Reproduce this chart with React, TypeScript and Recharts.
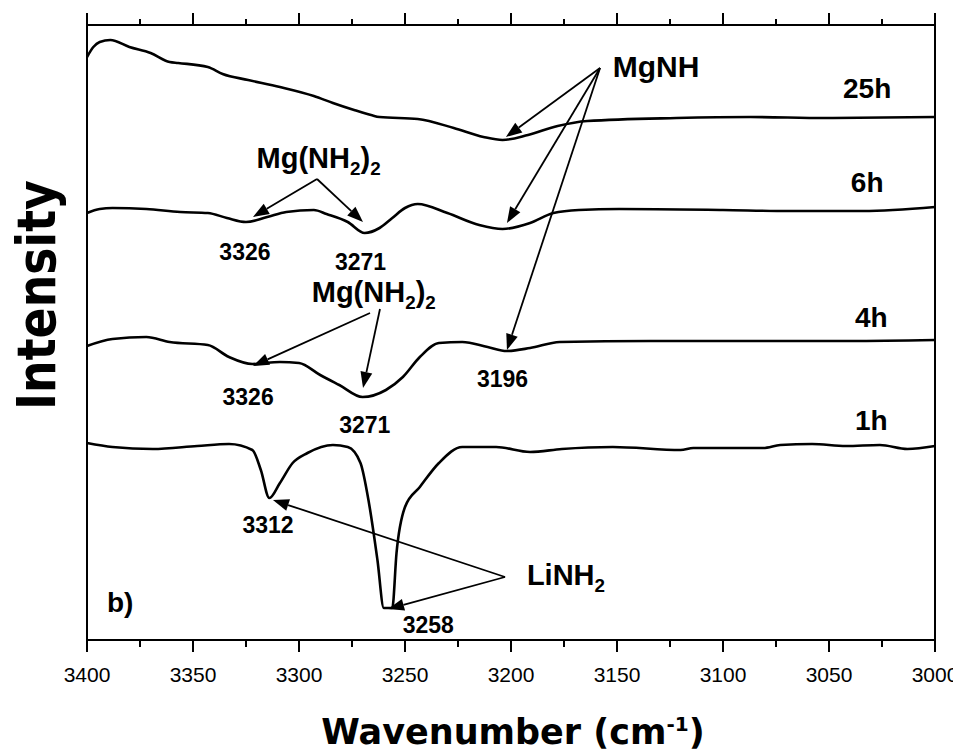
import { LineChart, Line, XAxis, YAxis, ReferenceLine, ReferenceDot } from 'recharts'

// wavenumber (cm-1) and intensity (a.u., curves offset)
const wn25h = [3400, 3397, 3394, 3389, 3380, 3370, 3361, 3357, 3343, 3336, 3324, 3309, 3293, 3284, 3274, 3266, 3262, 3244, 3227, 3213, 3204, 3192, 3178, 3164, 3122, 3087, 3052, 3000]
const int25h = [58.3, 59.3, 59.8, 60.0, 59.3, 58.7, 57.8, 57.7, 57.3, 56.6, 56.0, 55.3, 54.4, 53.7, 53.0, 52.5, 52.3, 52.1, 51.2, 50.3, 50.0, 50.5, 51.4, 51.9, 52.2, 52.3, 52.2, 52.3]

const wn6h = [3400, 3394, 3388, 3372, 3356, 3343, 3334, 3325, 3315, 3306, 3293, 3287, 3277, 3269, 3262, 3256, 3250, 3244, 3230, 3215, 3204, 3191, 3180, 3168, 3149, 3100, 3069, 3034, 3000]
const int6h = [42.7, 43.1, 43.2, 43.1, 42.8, 42.7, 42.2, 41.8, 42.3, 42.8, 43.0, 42.6, 41.8, 40.7, 41.2, 42.2, 43.2, 43.6, 42.7, 41.5, 41.1, 41.7, 42.7, 43.0, 43.1, 43.0, 42.9, 42.9, 43.3]

const wn4h = [3400, 3388, 3372, 3361, 3343, 3333, 3322, 3309, 3300, 3290, 3281, 3270, 3259, 3251, 3243, 3234, 3223, 3211, 3202, 3191, 3177, 3134, 3087, 3040, 3000]
const int4h = [29.4, 30.1, 30.3, 29.8, 29.5, 28.3, 27.6, 27.8, 27.7, 26.5, 25.5, 24.3, 25.0, 26.3, 28.3, 29.7, 29.8, 29.3, 28.9, 29.2, 29.8, 29.9, 29.9, 29.9, 30.0]

const wn1h = [3400, 3388, 3369, 3348, 3333, 3322, 3318, 3314, 3309, 3303, 3296, 3284, 3277, 3271, 3267, 3263, 3260, 3256, 3254, 3250, 3243, 3234, 3223, 3207, 3191, 3176, 3152, 3120, 3114, 3081, 3073, 3058, 3042, 3026, 3013, 3000]
const int1h = [19.7, 19.3, 19.1, 19.4, 19.6, 19.0, 17.0, 14.2, 15.7, 17.7, 18.7, 19.5, 19.3, 17.7, 13.7, 8.0, 3.2, 3.2, 8.7, 13.3, 15.3, 17.7, 19.3, 19.3, 18.8, 19.1, 19.3, 19.0, 19.2, 19.2, 19.5, 19.6, 19.4, 19.5, 19.1, 19.4]

const xTicks = [3400, 3375, 3350, 3325, 3300, 3275, 3250, 3225, 3200, 3175, 3150, 3125, 3100, 3075, 3050, 3025, 3000]
const yTicks = [6.4, 19.5, 32.6, 45.7, 58.8]

const toPoints = (w: number[], v: number[]) => w.map((x, i) => ({ w: x, v: v[i] }))
const series = [
  { name: '25h', data: toPoints(wn25h, int25h) },
  { name: '6h', data: toPoints(wn6h, int6h) },
  { name: '4h', data: toPoints(wn4h, int4h) },
  { name: '1h', data: toPoints(wn1h, int1h) },
]

type Part = { t: string; sub?: boolean; sup?: boolean }
// annotation text: [wavenumber, intensity, parts, size, anchor]
const labels: [number, number, Part[], number, string][] = [
  [3152, 56.3, [{ t: 'MgNH' }], 30, 'start'],
  [3032, 54.2, [{ t: '25h' }], 28, 'middle'],
  [3032, 44.8, [{ t: '6h' }], 28, 'middle'],
  [3030, 31.3, [{ t: '4h' }], 28, 'middle'],
  [3030, 21.0, [{ t: '1h' }], 28, 'middle'],
  [3320, 47.2, [{ t: 'Mg(NH' }, { t: '2', sub: true }, { t: ')' }, { t: '2', sub: true }], 29, 'start'],
  [3294, 33.8, [{ t: 'Mg(NH' }, { t: '2', sub: true }, { t: ')' }, { t: '2', sub: true }], 29, 'start'],
  [3325.5, 38.0, [{ t: '3326' }], 23, 'middle'],
  [3271, 37.0, [{ t: '3271' }], 23, 'middle'],
  [3324, 23.5, [{ t: '3326' }], 23, 'middle'],
  [3269, 20.7, [{ t: '3271' }], 23, 'middle'],
  [3204, 25.3, [{ t: '3196' }], 23, 'middle'],
  [3314.6, 10.7, [{ t: '3312' }], 23, 'middle'],
  [3239, 0.7, [{ t: '3258' }], 23, 'middle'],
  [3192.5, 5.5, [{ t: 'LiNH' }, { t: '2', sub: true }], 29, 'start'],
  [3390.6, 2.8, [{ t: 'b)' }], 28, 'start'],
]

// arrows: from (w, I) to (w, I)
const arrows: [number, number, number, number][] = [
  [3158, 57.2, 3202.4, 50.3],
  [3158, 57.2, 3201.9, 41.7],
  [3158, 57.2, 3201.9, 29.0],
  [3291.5, 46.1, 3321.7, 42.3],
  [3291.5, 46.1, 3269.8, 41.8],
  [3266.5, 32.7, 3321.7, 27.4],
  [3261.8, 33.1, 3269.8, 25.2],
  [3202.8, 6.3, 3312.3, 14.0],
  [3202.8, 6.3, 3258.0, 3.1],
]

const FONT = '"Liberation Sans", Arial, sans-serif'
const TITLE_FONT = '"DejaVu Sans", Verdana, sans-serif'

function renderParts(parts: Part[]) {
  return parts.map((p, i) => {
    const prev = parts[i - 1]
    let dy = 0
    if (p.sub) dy = 7
    else if (p.sup) dy = -12
    if (prev && prev.sub && !p.sub) dy -= 7
    if (prev && prev.sup && !p.sup) dy += 12
    return (
      <tspan key={i} dy={dy} fontSize={p.sub || p.sup ? '0.65em' : undefined}>
        {p.t}
      </tspan>
    )
  })
}

function Arrow(props: any) {
  const { x1, y1, x2, y2 } = props
  const dx = x2 - x1
  const dy = y2 - y1
  const len = Math.sqrt(dx * dx + dy * dy)
  const ux = dx / len
  const uy = dy / len
  const L = 16
  const H = 6
  const bx = x2 - ux * L
  const by = y2 - uy * L
  const pts = `${x2},${y2} ${bx - uy * H},${by + ux * H} ${bx + uy * H},${by - ux * H}`
  return (
    <g>
      <line x1={x1} y1={y1} x2={bx} y2={by} stroke="#000" strokeWidth={1.8} />
      <polygon points={pts} fill="#000" />
    </g>
  )
}

function BottomTick(props: any) {
  const { x, y, payload } = props
  const major = payload.value % 50 === 0
  return (
    <g>
      <line x1={x} y1={y} x2={x} y2={y + (major ? 12 : 7)} stroke="#000" strokeWidth={2} />
      {major && (
        <text x={x} y={y + 42} textAnchor="middle" fontFamily={FONT} fontSize={21} fill="#000">
          {payload.value}
        </text>
      )}
    </g>
  )
}

function TopTick(props: any) {
  const { x, y, payload } = props
  const major = payload.value % 50 === 0
  return <line x1={x} y1={y} x2={x} y2={y - (major ? 12 : 6)} stroke="#000" strokeWidth={2} />
}

export default function App() {
  return (
    <div>
      <style>{'html,body{overflow:hidden} .recharts-surface{overflow:visible}'}</style>
      <LineChart width={953} height={745} margin={{ top: 7, right: 8, bottom: 53, left: 0 }}>
        <XAxis
          dataKey="w"
          type="number"
          domain={[3000, 3400]}
          reversed
          ticks={xTicks}
          interval={0}
          height={60}
          tickSize={0}
          tickMargin={0}
          tickLine={false}
          tick={<BottomTick />}
          axisLine={{ stroke: '#000', strokeWidth: 2 }}
          label={{
            content: (p: any) => {
              const vb = p.viewBox
              return (
                <text
                  x={vb.x + vb.width / 2 + 2}
                  y={vb.y + 104}
                  textAnchor="middle"
                  fontFamily={TITLE_FONT}
                  fontWeight="bold"
                  fontSize={35}
                  fill="#000"
                >
                  <tspan>Wavenumber (cm</tspan>
                  <tspan dy={-13} fontSize={20}>-1</tspan>
                  <tspan dy={13}>)</tspan>
                </text>
              )
            },
          }}
        />
        <XAxis
          xAxisId="top"
          orientation="top"
          dataKey="w"
          type="number"
          domain={[3000, 3400]}
          reversed
          ticks={xTicks}
          interval={0}
          height={10}
          tickSize={0}
          tickMargin={0}
          tickLine={false}
          tick={<TopTick />}
          axisLine={{ stroke: '#000', strokeWidth: 2 }}
        />
        <YAxis
          type="number"
          domain={[0, 61.5]}
          ticks={yTicks}
          width={79}
          tick={false}
          tickSize={6}
          tickLine={{ stroke: '#000', strokeWidth: 2 }}
          axisLine={{ stroke: '#000', strokeWidth: 2 }}
          label={{
            content: () => (
              <text
                x={47}
                y={287}
                transform="rotate(-90 47 287)"
                textAnchor="middle"
                fontFamily={TITLE_FONT}
                fontWeight="bold"
                fontSize={54}
                textLength={230}
                lengthAdjust="spacingAndGlyphs"
                fill="#000"
              >
                Intensity
              </text>
            ),
          }}
        />
        <YAxis
          yAxisId="right"
          orientation="right"
          type="number"
          domain={[0, 61.5]}
          ticks={yTicks}
          width={18}
          tick={false}
          tickSize={6}
          tickLine={{ stroke: '#000', strokeWidth: 2 }}
          axisLine={{ stroke: '#000', strokeWidth: 2 }}
        />
        {series.map((s) => (
          <Line
            key={s.name}
            data={s.data}
            dataKey="v"
            type="monotone"
            stroke="#000"
            strokeWidth={2.6}
            dot={false}
            isAnimationActive={false}
          />
        ))}
        {/* hidden copy so the top frame axis has a series bound to it */}
        <Line
          xAxisId="top"
          yAxisId="right"
          data={series[0].data}
          dataKey="v"
          stroke="none"
          dot={false}
          legendType="none"
          isAnimationActive={false}
        />
        {arrows.map((a, i) => (
          <ReferenceLine
            key={'a' + i}
            segment={[{ x: a[0], y: a[1] }, { x: a[2], y: a[3] }]}
            ifOverflow="visible"
            shape={(p: any) => <Arrow {...p} />}
          />
        ))}
        {labels.map((l, i) => (
          <ReferenceDot
            key={'l' + i}
            x={l[0]}
            y={l[1]}
            r={0}
            ifOverflow="visible"
            shape={(p: any) => (
              <text
                x={p.cx}
                y={p.cy}
                textAnchor={l[4] as any}
                fontFamily={FONT}
                fontWeight="bold"
                fontSize={l[3]}
                fill="#000"
              >
                {renderParts(l[2])}
              </text>
            )}
          />
        ))}
      </LineChart>
    </div>
  )
}
